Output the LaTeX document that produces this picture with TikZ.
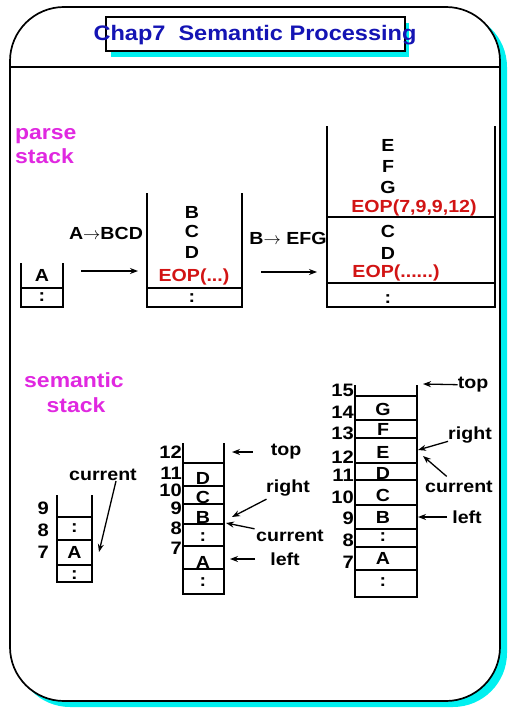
\documentclass[tikz,border=0pt]{standalone}
\usepackage{fontspec}
\setmainfont{Liberation Sans}[FakeStretch=1.12]
\usetikzlibrary{arrows.meta}
\definecolor{titleblue}{RGB}{20,20,180}
\definecolor{headpink}{RGB}{224,40,224}
\definecolor{eopred}{RGB}{210,20,20}
\definecolor{shadecyan}{RGB}{0,240,240}

\begin{document}
\begin{tikzpicture}[x=1pt, y=-1pt,
    txt/.style={font=\fontsize{17.5}{20}\selectfont\bfseries, inner sep=0pt},
    eop/.style={txt, text=eopred},
    num/.style={font=\fontsize{18}{20}\selectfont\bfseries, inner sep=0pt, anchor=east},
    head/.style={font=\fontsize{20.5}{24}\selectfont\bfseries, text=headpink, inner sep=0pt},
    stk/.style={line width=1.5pt},
    ptr/.style={-{Stealth[length=8pt,width=6pt]}, line width=1.3pt}]
    \useasboundingbox (0,0) rectangle (510,709);

    % Slide frame with shadow
    \fill[shadecyan, rounded corners=54pt] (16,13) rectangle (507,707);
    \draw[line width=1.7pt, fill=white, rounded corners=54pt] (10,7) rectangle (500,701);
    \draw[line width=1.7pt] (10,67) -- (500,67);

    % Title
    \fill[shadecyan] (111,23) rectangle (409,57);
    \draw[line width=1.5pt, fill=white] (106,17) rectangle (405,51);
    \node[font=\fontsize{21}{24}\selectfont\bfseries, text=titleblue] (title) at (255,35) {Chap7\ \ Semantic Processing};

    % Parse stack
    \node[head, anchor=base west] (ps1) at (15,139) {parse};
    \node[head, anchor=base west] (ps2) at (15,163) {stack};

    % first stack
    \draw[stk] (21,263) -- (21,307) -- (63,307) -- (63,263);
    \draw[stk] (21,288) -- (63,288);
    \node[txt] (p1a) at (42,275) {A};
    \node[txt] (p1b) at (42,297) {:};

    % A -> BCD
    \node[txt] (rule1) at (106,233) {A$\rightarrow$BCD};
    \coordinate (r1s) at (81,271);
    \coordinate (r1e) at (138,271);
    \draw[ptr] (r1s) -- (r1e);

    % second stack
    \draw[stk] (147,193) -- (147,307) -- (242,307) -- (242,193);
    \draw[stk] (147,288) -- (242,288);
    \node[txt] (p2a) at (192,212) {B};
    \node[txt] (p2b) at (192,231) {C};
    \node[txt] (p2c) at (192,252) {D};
    \node[eop] (p2d) at (194,277) {EOP(...)};
    \node[txt] (p2e) at (192,298) {:};

    % B -> EFG
    \node[txt] (rule2) at (288,238) {B$\rightarrow$ EFG};
    \coordinate (r2s) at (261,272);
    \coordinate (r2e) at (317,272);
    \draw[ptr] (r2s) -- (r2e);

    % third stack
    \draw[stk] (327,126) -- (327,307) -- (495,307) -- (495,126);
    \draw[stk] (327,217) -- (495,217);
    \draw[stk] (327,283) -- (495,283);
    \node[txt] (p3a) at (388,145) {E};
    \node[txt] (p3b) at (388,166) {F};
    \node[txt] (p3c) at (388,187) {G};
    \node[eop] (p3d) at (414,208) {EOP(7,9,9,12)};
    \node[txt] (p3e) at (388,231) {C};
    \node[txt] (p3f) at (388,253) {D};
    \node[eop] (p3g) at (396,273) {EOP(......)};
    \node[txt] (p3h) at (388,299) {:};

    % Semantic stack
    \node[head, anchor=base] (ss1) at (74,387) {semantic};
    \node[head, anchor=base] (ss2) at (76,412) {stack};

    % first semantic stack
    \draw[stk] (57,495) -- (57,582) -- (92,582) -- (92,495);
    \foreach \y in {517,540,565} \draw[stk] (57,\y) -- (92,\y);
    \foreach \n/\y in {9/508,8/530,7/552} \node[num] (s1n\n) at (49,\y) {\n};
    \node[txt] (s1a) at (74.5,528) {:};
    \node[txt] (s1b) at (74.5,552) {A};
    \node[txt] (s1c) at (74.5,575) {:};
    \node[txt] (cur1) at (103,475) {current};
    \coordinate (cur1t) at (99,552);
    \draw[ptr] ([xshift=13pt]cur1.south) -- (cur1t);

    % second semantic stack
    \draw[stk] (183,443) -- (183,594) -- (224,594) -- (224,443);
    \foreach \y in {463,486,504,524,546,569} \draw[stk] (183,\y) -- (224,\y);
    \foreach \n/\y in {12/452,11/473,10/490,9/508,8/528,7/548} \node[num] (s2n\n) at (182,\y) {\n};
    \node[txt] (s2a) at (203,478) {D};
    \node[txt] (s2b) at (203,497) {C};
    \node[txt] (s2c) at (203,517) {B};
    \node[txt] (s2d) at (203,537) {:};
    \node[txt] (s2e) at (203,562) {A};
    \node[txt] (s2f) at (203,582) {:};
    \node[txt] (top2) at (286,452) {top};
    \node[txt] (right2) at (288,488) {right};
    \node[txt] (cur2) at (290,536) {current};
    \node[txt] (left2) at (285,559) {left};
    \coordinate (top2t) at (232,452);
    \coordinate (right2t) at (232,517);
    \coordinate (cur2t) at (226,523);
    \coordinate (left2t) at (230,559);
    \draw[ptr, shorten <=18pt] (top2) -- (top2t);
    \draw[ptr, shorten <=6pt] (right2) -- (right2t);
    \draw[ptr, shorten <=6pt] (cur2) -- (cur2t);
    \draw[ptr, shorten <=15pt] (left2) -- (left2t);

    % third semantic stack
    \draw[stk] (355,385) -- (355,597) -- (417,597) -- (417,385);
    \foreach \y in {396,420,438,463,480,505,529,547,570} \draw[stk] (355,\y) -- (417,\y);
    \foreach \n/\y in {15/390,14/412,13/433,12/457,11/475,10/497,9/518,8/540,7/562} \node[num] (s3n\n) at (354,\y) {\n};
    \node[txt] (s3a) at (383,409) {G};
    \node[txt] (s3b) at (383,429) {F};
    \node[txt] (s3c) at (383,452) {E};
    \node[txt] (s3d) at (383,473) {D};
    \node[txt] (s3e) at (383,495) {C};
    \node[txt] (s3f) at (383,517) {B};
    \node[txt] (s3g) at (383,537) {:};
    \node[txt] (s3h) at (383,558) {A};
    \node[txt] (s3i) at (383,582) {:};
    \node[txt] (top3) at (473,385) {top};
    \node[txt] (right3) at (470,435) {right};
    \node[txt] (cur3) at (459,487) {current};
    \node[txt] (left3) at (467,517) {left};
    \coordinate (top3t) at (423,384);
    \coordinate (right3t) at (418,450);
    \coordinate (cur3t) at (423,456);
    \coordinate (left3t) at (418,517);
    \draw[ptr] (top3) -- (top3t);
    \draw[ptr] (right3) -- (right3t);
    \draw[ptr, shorten <=7pt] (cur3) -- (cur3t);
    \draw[ptr, shorten <=5pt] (left3) -- (left3t);
\end{tikzpicture}
\end{document}
